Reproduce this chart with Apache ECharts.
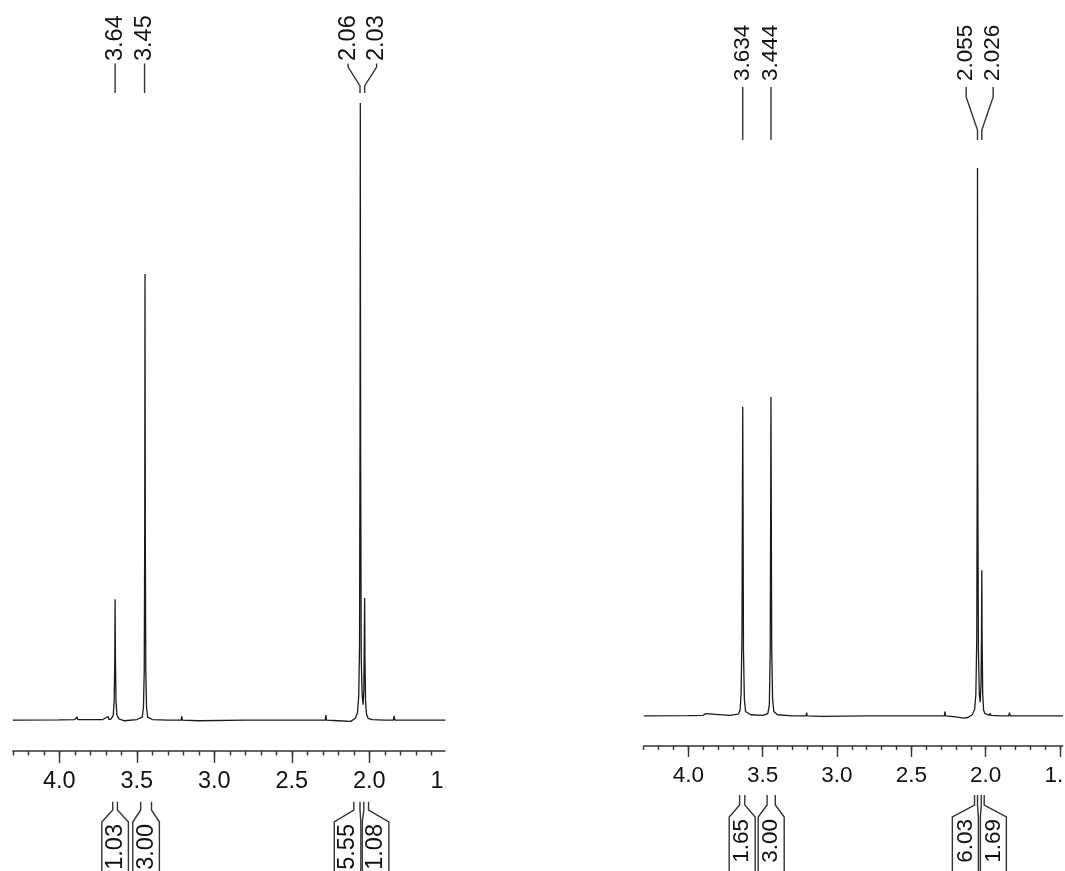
<!DOCTYPE html>
<html>
<head>
<meta charset="utf-8">
<title>1H NMR</title>
<script src="https://cdn.jsdelivr.net/npm/echarts@6/dist/echarts.min.js"></script>
<style>
  html, body { margin: 0; padding: 0; background: #fff; }
  #main { width: 1065px; height: 871px; }
</style>
</head>
<body>
<div id="main"></div>
<script>
// left spectrum (ppm / relative intensity, tallest peak = 100)
const leftShift = [4.30, 4.00, 3.90, 3.885, 3.88, 3.72, 3.685, 3.68, 3.665, 3.652, 3.646, 3.642, 3.640, 3.638, 3.634, 3.628, 3.615, 3.58,
  3.50, 3.465, 3.457, 3.452, 3.449, 3.447, 3.445, 3.442, 3.437, 3.43, 3.40, 3.30, 3.214, 3.21, 3.206, 3.10, 2.80, 2.50, 2.30, 2.284, 2.28, 2.276,
  2.20, 2.12, 2.09, 2.076, 2.068, 2.063, 2.060, 2.058, 2.056, 2.052, 2.046, 2.040, 2.035, 2.032, 2.030, 2.028, 2.024, 2.018, 2.008, 1.98,
  1.90, 1.845, 1.84, 1.835, 1.75, 1.50];
const leftIntensity = [0, 0.05, 0.1, 0.5, 0.1, 0.1, 0.6, 0.1, 0.2, 0.8, 3, 10, 19.6, 10, 3, 0.8, 0.2, -0.1,
  0.1, 0.5, 2, 8, 30, 72.3, 30, 8, 2, 0.5, 0.1, 0, 0, 0.6, 0, -0.1, 0, 0, 0, 0, 0.8, 0,
  -0.1, -0.2, 0.3, 1.2, 4, 12, 45, 100, 45, 10, 4, 2.5, 5, 14, 19.8, 10, 3, 1, 0.3, 0.1,
  0, 0, 0.7, 0, 0, 0];
const leftPeaks = [3.64, 3.45, 2.06, 2.03];
const leftPeakLabels = ['3.64', '3.45', '2.06', '2.03'];
const leftIntFrom = [3.655, 3.475, 2.10, 2.035];
const leftIntTo = [3.625, 3.405, 2.06, 2.005];
const leftIntValues = ['1.03', '3.00', '5.55', '1.08'];

// right spectrum
const rightShift = [4.30, 4.00, 3.90, 3.885, 3.88, 3.72, 3.665, 3.652, 3.645, 3.639, 3.636, 3.634, 3.632, 3.629, 3.623, 3.615, 3.58,
  3.50, 3.465, 3.455, 3.449, 3.446, 3.444, 3.442, 3.439, 3.433, 3.425, 3.40, 3.30, 3.208, 3.204, 3.20, 3.10, 2.80, 2.50, 2.30, 2.278, 2.274, 2.27,
  2.20, 2.15, 2.12, 2.09, 2.074, 2.066, 2.060, 2.057, 2.055, 2.053, 2.049, 2.043, 2.037, 2.031, 2.028, 2.026, 2.024, 2.020, 2.014, 2.004,
  1.975, 1.97, 1.965, 1.90, 1.845, 1.84, 1.835, 1.75, 1.48];
const rightIntensity = [0, 0.05, 0.1, 0.4, 0.1, 0.1, 0.3, 1, 4, 15, 40, 56.4, 40, 12, 3, 0.8, 0.2,
  0.1, 0.4, 2, 12, 38, 58.2, 38, 12, 3, 0.8, 0.2, 0, 0, 0.6, 0, -0.1, 0, 0, 0, 0, 0.8, 0,
  -0.2, -0.4, -0.3, 0.2, 1.2, 4, 14, 45, 100, 45, 12, 4, 2.5, 6, 16, 26.6, 14, 4, 1, 0.4,
  0.1, 0.5, 0.1, 0, 0, 0.6, 0, 0, 0];
const rightPeaks = [3.634, 3.444, 2.055, 2.026];
const rightPeakLabels = ['3.634', '3.444', '2.055', '2.026'];
const rightIntFrom = [3.655, 3.47, 2.075, 2.03];
const rightIntTo = [3.62, 3.415, 2.055, 2.01];
const rightIntValues = ['1.65', '3.00', '6.03', '1.69'];

// axis ticks (ppm)
const majorTicks = [4.0, 3.5, 3.0, 2.5, 2.0, 1.5];
const minorTicks = [4.3, 4.2, 4.1, 4.0, 3.9, 3.8, 3.7, 3.6, 3.5, 3.4, 3.3, 3.2, 3.1, 3.0, 2.9, 2.8, 2.7, 2.6, 2.5,
  2.4, 2.3, 2.2, 2.1, 2.0, 1.9, 1.8, 1.7, 1.6, 1.5];

const FONT = '"Liberation Sans", Arial, Helvetica, sans-serif';
const INK = '#111';
const LINE = '#333';

// push label centres apart when they would overlap
function spread(xs, gap) {
  let groups = xs.map((x, i) => ({ idx: [i], c: x }));
  let changed = true;
  while (changed) {
    changed = false;
    for (let k = 0; k < groups.length - 1; k++) {
      const a = groups[k], b = groups[k + 1];
      const aEnd = a.c + (a.idx.length - 1) * gap / 2;
      const bStart = b.c - (b.idx.length - 1) * gap / 2;
      if (bStart - aEnd < gap) {
        const idx = a.idx.concat(b.idx);
        const c = idx.reduce((s, i) => s + xs[i], 0) / idx.length;
        groups.splice(k, 2, { idx: idx, c: c });
        changed = true;
        break;
      }
    }
  }
  const out = [];
  groups.forEach(g => g.idx.forEach((i, j) => { out[i] = g.c + (j - (g.idx.length - 1) / 2) * gap; }));
  return out;
}

function peakLabelSeries(axisIdx, peaks, labels, cfg) {
  return {
    type: 'custom', xAxisIndex: axisIdx * 2 + 1, yAxisIndex: axisIdx, silent: true, clip: false,
    data: [[2, 0]],
    renderItem: function (params, api) {
      const px = peaks.map(p => api.coord([p, 0])[0]);
      const tx = spread(px, cfg.gap);
      const children = [];
      peaks.forEach((p, i) => {
        children.push({
          type: 'polyline',
          shape: { points: [[tx[i], cfg.y0], [tx[i], cfg.y1], [px[i], cfg.y2], [px[i], cfg.y3]] },
          style: { stroke: LINE, lineWidth: 1.4, fill: null }
        });
        children.push({
          type: 'text', x: tx[i], y: cfg.textY, rotation: Math.PI / 2,
          style: { text: labels[i], fontSize: cfg.fontSize, fontFamily: FONT, fill: INK, align: 'left', verticalAlign: 'middle' }
        });
      });
      return { type: 'group', children: children };
    }
  };
}

function integralSeries(axisIdx, from, to, values, cfg) {
  return {
    type: 'custom', xAxisIndex: axisIdx * 2 + 1, yAxisIndex: axisIdx, silent: true, clip: false,
    data: [[2, 0]],
    renderItem: function (params, api) {
      const xa = from.map(v => api.coord([v, 0])[0]);
      const xb = to.map(v => api.coord([v, 0])[0]);
      const cx = spread(xa.map((a, i) => (a + xb[i]) / 2), cfg.gap);
      const hw = cfg.halfWidth;
      const children = [];
      values.forEach((v, i) => {
        children.push({
          type: 'polyline',
          shape: { points: [[xa[i], cfg.top], [xa[i], cfg.bend1], [cx[i] - hw, cfg.bend2], [cx[i] - hw, cfg.bottom]] },
          style: { stroke: LINE, lineWidth: 1.4, fill: null }
        });
        children.push({
          type: 'polyline',
          shape: { points: [[xb[i], cfg.top], [xb[i], cfg.bend1], [cx[i] + hw, cfg.bend2], [cx[i] + hw, cfg.bottom]] },
          style: { stroke: LINE, lineWidth: 1.4, fill: null }
        });
        children.push({
          type: 'text', x: cx[i], y: cfg.textY, rotation: Math.PI / 2,
          style: { text: v, fontSize: cfg.fontSize, fontFamily: FONT, fill: INK, align: 'right', verticalAlign: 'middle' }
        });
      });
      return { type: 'group', children: children };
    }
  };
}

function ppmAxes(gridIndex, lo, fontSize, majorLen, minorLen, margin) {
  return [{
    type: 'value', gridIndex: gridIndex, position: 'bottom', min: lo, max: 4.3, inverse: true,
    axisLine: { show: false, onZero: false },
    axisTick: { show: true, customValues: minorTicks, length: minorLen, lineStyle: { color: LINE, width: 1.4 } },
    axisLabel: { show: false },
    splitLine: { show: false }
  }, {
    type: 'value', gridIndex: gridIndex, position: 'bottom', min: lo, max: 4.3, inverse: true,
    axisLine: { show: true, onZero: false, lineStyle: { color: LINE, width: 1.5 } },
    axisTick: { show: true, customValues: majorTicks, length: majorLen, lineStyle: { color: LINE, width: 1.4 } },
    axisLabel: {
      customValues: majorTicks, margin: margin, fontSize: fontSize, fontFamily: FONT, color: INK,
      formatter: v => v.toFixed(1)
    },
    splitLine: { show: false }
  }];
}

const chart = echarts.init(document.getElementById('main'), null, { renderer: 'canvas' });

chart.setOption({
  animation: false,
  backgroundColor: '#fff',
  grid: [
    { left: 12.8, top: 103, width: 434, height: 648, outerBoundsMode: 'none', containLabel: false },
    { left: 643.7, top: 168, width: 419.3, height: 578, outerBoundsMode: 'none', containLabel: false }
  ],
  xAxis: ppmAxes(0, 1.5, 23.5, 12, 4.5, 19).concat(ppmAxes(1, 1.48, 22.5, 11, 4, 18)),
  yAxis: [
    { type: 'value', gridIndex: 0, min: -5, max: 100, show: false },
    { type: 'value', gridIndex: 1, min: -5.5, max: 100, show: false }
  ],
  series: [
    {
      type: 'line', xAxisIndex: 1, yAxisIndex: 0, symbol: 'none', silent: true,
      data: leftShift.map((s, i) => [s, leftIntensity[i]]),
      lineStyle: { color: '#1a1a1a', width: 1.3 }
    },
    {
      type: 'line', xAxisIndex: 3, yAxisIndex: 1, symbol: 'none', silent: true,
      data: rightShift.map((s, i) => [s, rightIntensity[i]]),
      lineStyle: { color: '#1a1a1a', width: 1.3 }
    },
    peakLabelSeries(0, leftPeaks, leftPeakLabels, { gap: 28.5, textY: 61, y0: 63.5, y1: 67, y2: 86, y3: 93, fontSize: 23.5 }),
    peakLabelSeries(1, rightPeaks, rightPeakLabels, { gap: 27, textY: 81, y0: 87, y1: 97, y2: 130, y3: 140, fontSize: 22.5 }),
    integralSeries(0, leftIntFrom, leftIntTo, leftIntValues, { gap: 28, halfWidth: 13.3, top: 801.7, bend1: 810, bend2: 822, bottom: 880, textY: 824, fontSize: 23.5 }),
    integralSeries(1, rightIntFrom, rightIntTo, rightIntValues, { gap: 28, halfWidth: 13, top: 795, bend1: 805, bend2: 817, bottom: 880, textY: 819, fontSize: 22.5 })
  ],
  // both plots are cropped at their right edge, cutting the 1.5 label
  graphic: [
    { type: 'rect', shape: { x: 445.5, y: 0, width: 190, height: 871 }, style: { fill: '#fff' }, z: 100 },
    { type: 'rect', shape: { x: 1063.5, y: 0, width: 10, height: 871 }, style: { fill: '#fff' }, z: 100 }
  ]
});
</script>
</body>
</html>
